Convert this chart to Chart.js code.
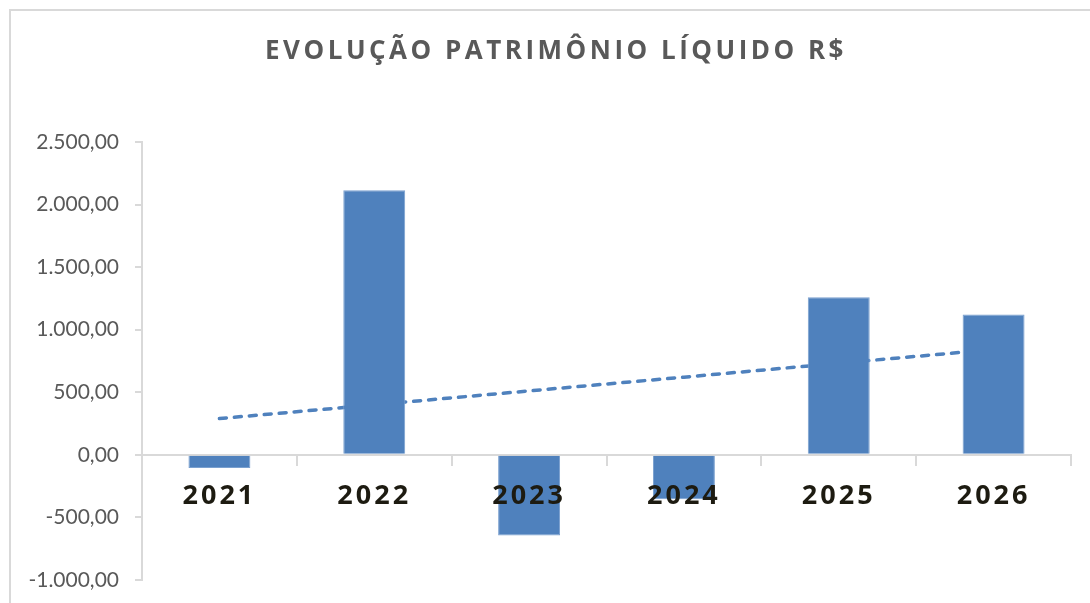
<!DOCTYPE html>
<html lang="pt-BR">
<head>
<meta charset="utf-8">
<title>Evolução Patrimônio Líquido</title>
<script src="https://cdn.jsdelivr.net/npm/chart.js@4.4.1/dist/chart.umd.min.js"></script>
<style>
  html, body { margin: 0; padding: 0; background: #fff; }
  #grafico { display: block; }
</style>
</head>
<body>
<canvas id="grafico" width="1090" height="603"></canvas>
<script>
// Dados do gráfico
const anos = ["2021", "2022", "2023", "2024", "2025", "2026"];
const patrimonio = [-105, 2115, -645, -355, 1260, 1122];
// linha de tendência, pontos lidos sobre cada ano
const tendencia = [290, 400, 511, 621, 732, 842];
const titulo = "EVOLUÇÃO PATRIMÔNIO LÍQUIDO R$";

// formato brasileiro: 2.500,00
const formatarValor = (v) =>
  Number(v).toLocaleString("pt-BR", { minimumFractionDigits: 2, maximumFractionDigits: 2 });

// Moldura cinza do gráfico (sai pela direita e por baixo)
const molduraPlugin = {
  id: "moldura",
  beforeDraw: (chart) => {
    const ctx = chart.ctx;
    ctx.save();
    ctx.fillStyle = "#ffffff";
    ctx.fillRect(0, 0, chart.width, chart.height);
    ctx.strokeStyle = "#d9d9d9";
    ctx.lineWidth = 2;
    ctx.strokeRect(10, 10, chart.width + 20, chart.height + 20);
    ctx.restore();
  }
};

// Os anos do eixo X têm letras espaçadas
const espacamentoPlugin = {
  id: "espacamentoAnos",
  beforeDraw: (chart) => {
    const eixoX = chart.scales.x;
    if (eixoX && !eixoX._comEspaco) {
      const desenharOriginal = eixoX.drawLabels.bind(eixoX);
      eixoX.drawLabels = (area) => {
        chart.ctx.save();
        chart.ctx.letterSpacing = "3px";
        desenharOriginal(area);
        chart.ctx.restore();
      };
      eixoX._comEspaco = true;
    }
  }
};

// Título com espaçamento entre letras
const tituloPlugin = {
  id: "tituloEspacado",
  afterDraw: (chart) => {
    const ctx = chart.ctx;
    ctx.save();
    ctx.font = "700 26px 'Open Sans'";
    ctx.letterSpacing = "3.5px";
    ctx.fillStyle = "#595959";
    ctx.textAlign = "center";
    ctx.textBaseline = "middle";
    ctx.fillText(titulo, 556, 52);
    ctx.restore();
  }
};

const ctx = document.getElementById("grafico").getContext("2d");

const grafico = new Chart(ctx, {
  type: "bar",
  data: {
    labels: anos,
    datasets: [
      {
        type: "bar",
        label: "Patrimônio Líquido",
        data: patrimonio,
        backgroundColor: "#4f81bd",
        borderColor: "#7aa0cf",
        borderWidth: 1,
        barPercentage: 0.4,
        categoryPercentage: 1,
        order: 1
      },
      {
        type: "line",
        label: "Tendência",
        data: tendencia,
        borderColor: "#4f81bd",
        borderWidth: 3.5,
        borderDash: [7, 8],
        borderCapStyle: "round",
        pointRadius: 0,
        fill: false,
        tension: 0,
        order: 2
      }
    ]
  },
  options: {
    responsive: false,
    animation: false,
    devicePixelRatio: 1,
    layout: { padding: { top: 142, right: 19, bottom: 23, left: 0 } },
    plugins: {
      legend: { display: false },
      tooltip: { enabled: false },
      title: { display: false }
    },
    scales: {
      x: {
        position: { y: 0 },
        offset: true,
        grid: {
          display: true,
          drawOnChartArea: false,
          drawTicks: true,
          tickLength: 10,
          color: "#d9d9d9",
          lineWidth: 2,
          offset: true
        },
        border: { color: "#d9d9d9", width: 2 },
        ticks: {
          z: 1,
          padding: 15,
          color: "#1d1b11",
          font: { family: "'Open Sans'", size: 27, weight: "bold" }
        }
      },
      y: {
        min: -1000,
        max: 2500,
        ticks: {
          stepSize: 500,
          padding: 16,
          color: "#595959",
          font: { family: "Lato", size: 21 },
          callback: formatarValor
        },
        grid: {
          drawOnChartArea: false,
          tickLength: 7,
          color: "#d9d9d9",
          lineWidth: 2
        },
        border: { color: "#d9d9d9", width: 2 },
        afterFit: (escala) => {
          escala.width = 142;
          // o rótulo de baixo pode passar da área, como no original
          escala.paddingBottom = 0;
        }
      }
    }
  },
  plugins: [molduraPlugin, espacamentoPlugin, tituloPlugin]
});
</script>
</body>
</html>
